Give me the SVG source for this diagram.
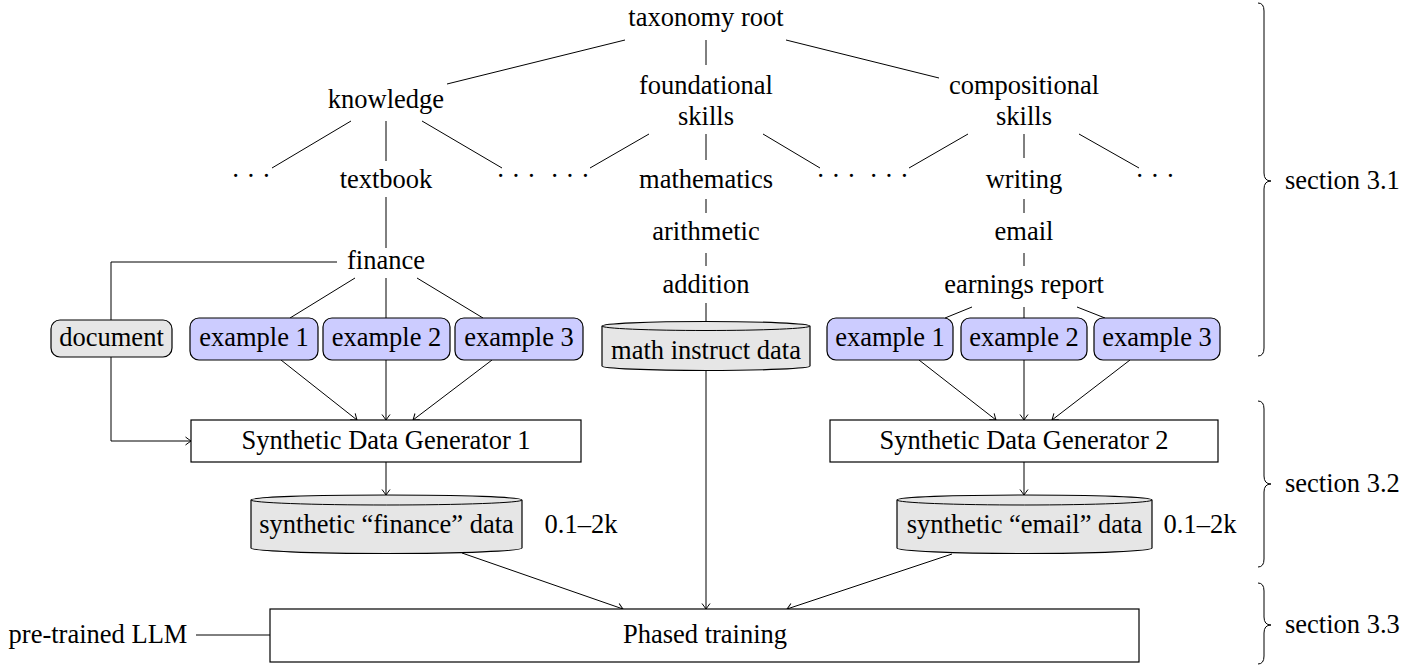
<svg xmlns="http://www.w3.org/2000/svg" width="1420" height="666" viewBox="0 0 1420 666">
<style>
text{font-family:"Liberation Serif","Times New Roman",serif;font-size:26.5px;fill:#000;text-anchor:middle}
.l{stroke:#000;stroke-width:1;fill:none}
.a{stroke:#000;stroke-width:1;fill:none;marker-end:url(#arr)}
.ex{fill:#ccccff;stroke:#000;stroke-width:1.2}
.doc{fill:#e6e6e6;stroke:#000;stroke-width:1.2}
.box{fill:#fff;stroke:#000;stroke-width:1.2}
.cyl{fill:#e6e6e6;stroke:#000;stroke-width:1.2}
.br{stroke:#000;stroke-width:1;fill:none}
.st{text-anchor:start}
</style>
<defs>
<marker id="arr" markerUnits="userSpaceOnUse" viewBox="-8 -6 10 12" refX="0" refY="0" markerWidth="10" markerHeight="12" orient="auto">
<path d="M-5.5,-4 Q-1.5,-1 0,0 Q-1.5,1 -5.5,4" fill="none" stroke="#000" stroke-width="1"/>
</marker>
</defs>
<g id="connectors">
<line class="l" x1="625" y1="40" x2="447" y2="84"/>
<line class="l" x1="706" y1="40" x2="706" y2="65"/>
<line class="l" x1="786" y1="40" x2="939" y2="78"/>
<line class="l" x1="351" y1="121" x2="272" y2="168"/>
<line class="l" x1="386" y1="121" x2="386" y2="161"/>
<line class="l" x1="422" y1="121" x2="502" y2="168"/>
<line class="l" x1="649" y1="134" x2="590" y2="168"/>
<line class="l" x1="706" y1="134" x2="706" y2="160"/>
<line class="l" x1="763" y1="134" x2="820" y2="168"/>
<line class="l" x1="968" y1="134" x2="909" y2="168"/>
<line class="l" x1="1024" y1="134" x2="1024" y2="158"/>
<line class="l" x1="1079" y1="134" x2="1139" y2="168"/>
<line class="l" x1="386" y1="197" x2="386" y2="248"/>
<line class="l" x1="706" y1="199" x2="706" y2="213"/>
<line class="l" x1="706" y1="253" x2="706" y2="266"/>
<line class="l" x1="1024" y1="199" x2="1024" y2="213"/>
<line class="l" x1="1024" y1="253" x2="1024" y2="266"/>
<line class="l" x1="706" y1="303" x2="706" y2="322"/>
<line class="l" x1="355" y1="278" x2="290" y2="318"/>
<line class="l" x1="386" y1="278" x2="386" y2="318"/>
<line class="l" x1="417" y1="278" x2="483" y2="318"/>
<line class="l" x1="972" y1="307" x2="945" y2="318"/>
<line class="l" x1="1024" y1="307" x2="1024" y2="318"/>
<line class="l" x1="1077" y1="307" x2="1105" y2="318"/>
<path class="l" d="M337,262 H111 V320"/>
<path class="a" d="M111,357 V441 H191"/>
<line class="a" x1="281" y1="360" x2="357" y2="420"/>
<line class="a" x1="386" y1="360" x2="386" y2="420"/>
<line class="a" x1="492" y1="360" x2="413" y2="420"/>
<line class="a" x1="919" y1="360" x2="996" y2="420"/>
<line class="a" x1="1024" y1="360" x2="1024" y2="420"/>
<line class="a" x1="1130" y1="360" x2="1052" y2="420"/>
<line class="a" x1="386" y1="462" x2="386" y2="495"/>
<line class="a" x1="1024" y1="462" x2="1024" y2="495"/>
<line class="a" x1="462" y1="553" x2="623" y2="609"/>
<line class="a" x1="706" y1="371" x2="706" y2="609"/>
<line class="a" x1="952" y1="554" x2="787" y2="609"/>
<line class="l" x1="196" y1="635" x2="270" y2="635"/>
</g>
<g id="taxonomy-root"><text x="706" y="26">taxonomy root</text></g>
<g id="knowledge"><text x="386" y="108">knowledge</text></g>
<g id="foundational-skills"><text x="706" y="94">foundational</text><text x="706" y="124.5">skills</text></g>
<g id="compositional-skills"><text x="1024" y="94">compositional</text><text x="1024" y="124.5">skills</text></g>
<g id="dots1"><text x="251" y="185">· · ·</text></g>
<g id="textbook"><text x="386" y="188">textbook</text></g>
<g id="dots2"><text x="516" y="185">· · ·</text></g>
<g id="dots3"><text x="570" y="185">· · ·</text></g>
<g id="mathematics"><text x="706" y="188">mathematics</text></g>
<g id="dots4"><text x="836" y="185">· · ·</text></g>
<g id="dots5"><text x="889" y="185">· · ·</text></g>
<g id="writing"><text x="1024" y="188">writing</text></g>
<g id="dots6"><text x="1155" y="185">· · ·</text></g>
<g id="arithmetic"><text x="706" y="240">arithmetic</text></g>
<g id="email"><text x="1024" y="240">email</text></g>
<g id="finance"><text x="386" y="269">finance</text></g>
<g id="addition"><text x="706" y="293">addition</text></g>
<g id="earnings-report"><text x="1024" y="293">earnings report</text></g>
<g id="document"><rect class="doc" x="51" y="320" width="121" height="37" rx="9"/><text x="111.5" y="346">document</text></g>
<g id="ex1-left"><rect class="ex" x="190" y="318" width="128" height="42" rx="9"/><text x="254" y="346">example 1</text></g>
<g id="ex2-left"><rect class="ex" x="323" y="318" width="127" height="42" rx="9"/><text x="386.5" y="346">example 2</text></g>
<g id="ex3-left"><rect class="ex" x="455" y="318" width="128" height="42" rx="9"/><text x="519" y="346">example 3</text></g>
<g id="math-instruct-data">
<path class="cyl" d="M602,326 A104,4.5 0 0 1 810,326 V366 A104,4.5 0 0 1 602,366 Z"/>
<path class="l" d="M602,326 A104,4.5 0 0 0 810,326"/>
<text x="706" y="359">math instruct data</text></g>
<g id="ex1-right"><rect class="ex" x="827" y="318" width="126" height="42" rx="9"/><text x="890" y="346">example 1</text></g>
<g id="ex2-right"><rect class="ex" x="961" y="318" width="126" height="42" rx="9"/><text x="1024" y="346">example 2</text></g>
<g id="ex3-right"><rect class="ex" x="1094" y="318" width="126" height="42" rx="9"/><text x="1157" y="346">example 3</text></g>
<g id="generator-1"><rect class="box" x="191" y="420" width="390" height="42"/><text x="386" y="449">Synthetic Data Generator 1</text></g>
<g id="generator-2"><rect class="box" x="830" y="420" width="388" height="42"/><text x="1024" y="449">Synthetic Data Generator 2</text></g>
<g id="finance-data">
<path class="cyl" d="M251,500 A135.5,5 0 0 1 522,500 V548 A135.5,5.5 0 0 1 251,548 Z"/>
<path class="l" d="M251,500 A135.5,5 0 0 0 522,500"/>
<text x="386.5" y="533">synthetic “finance” data</text></g>
<g id="finance-count"><text x="581" y="533">0.1–2k</text></g>
<g id="email-data">
<path class="cyl" d="M897,500 A127.5,5 0 0 1 1152,500 V548 A127.5,5.5 0 0 1 897,548 Z"/>
<path class="l" d="M897,500 A127.5,5 0 0 0 1152,500"/>
<text x="1024.5" y="533">synthetic “email” data</text></g>
<g id="email-count"><text x="1200" y="533">0.1–2k</text></g>
<g id="pretrained-llm"><text x="98" y="643">pre-trained LLM</text></g>
<g id="phased-training"><rect class="box" x="270" y="609" width="869" height="53"/><text x="705" y="643">Phased training</text></g>
<g id="section-3-1">
<path class="br" d="M1258,3 Q1264,3 1264,11 V173 Q1264,181 1271,181 Q1264,181 1264,189 V348 Q1264,356 1258,356"/>
<text class="st" x="1285" y="189">section 3.1</text></g>
<g id="section-3-2">
<path class="br" d="M1258,401 Q1264,401 1264,409 V476 Q1264,484 1271,484 Q1264,484 1264,492 V559 Q1264,567 1258,567"/>
<text class="st" x="1285" y="492">section 3.2</text></g>
<g id="section-3-3">
<path class="br" d="M1258,583 Q1264,583 1264,591 V617 Q1264,625 1271,625 Q1264,625 1264,633 V656 Q1264,664 1258,664"/>
<text class="st" x="1285" y="633">section 3.3</text></g>
</svg>
